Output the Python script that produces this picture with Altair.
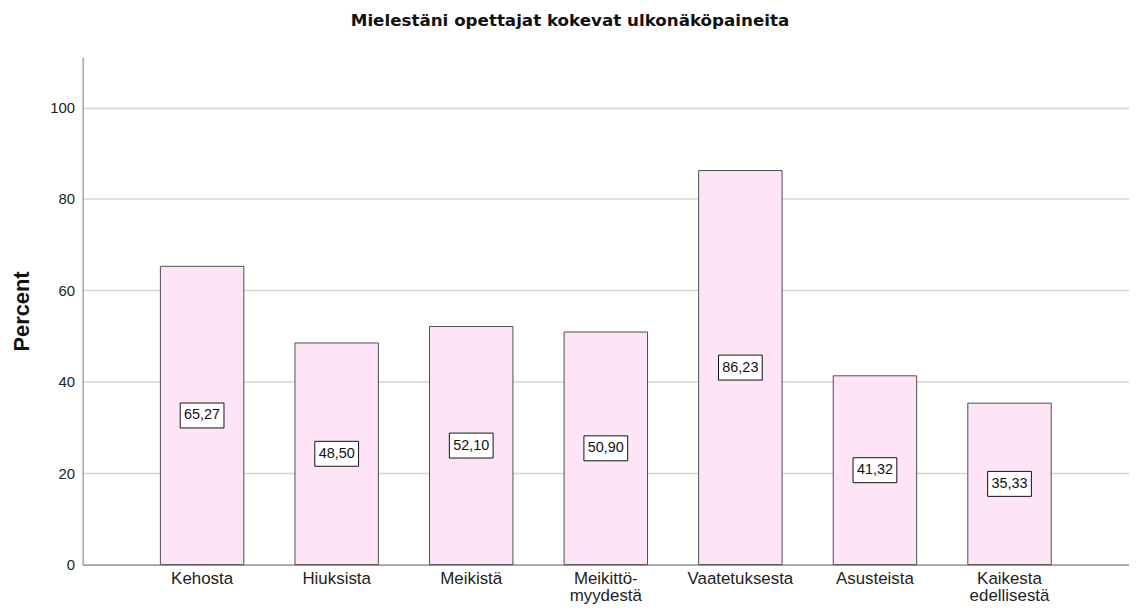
import altair as alt
import pandas as pd

categories = ["Kehosta", "Hiuksista", "Meikistä", "Meikittö-\nmyydestä",
              "Vaatetuksesta", "Asusteista", "Kaikesta\nedellisestä"]
percent = [65.27, 48.50, 52.10, 50.90, 86.23, 41.32, 35.33]

df = pd.DataFrame({"cat": categories, "pct": percent})

FONT = "Liberation Sans"

x_enc = alt.X("cat:N", sort=categories, title=None,
              scale=alt.Scale(paddingInner=0.38, paddingOuter=0.578),
              axis=alt.Axis(labelAngle=0, ticks=False, labelFont=FONT, labelFontSize=17,
                            labelColor="#222222", labelPadding=6, labelBaseline="top",
                            domainColor="#777777",
                            labelExpr="split(datum.label, '\\n')", labelLineHeight=17))

base = alt.Chart(df).encode(x=x_enc)

bars = base.mark_bar(fill="#fde4f6", stroke="#4f4f4f", strokeWidth=1).encode(
    y=alt.Y("pct:Q", title="Percent",
            scale=alt.Scale(domain=[0, 111], nice=False),
            axis=alt.Axis(values=[0, 20, 40, 60, 80, 100], ticks=False, labelFont=FONT,
                          labelFontSize=15, labelColor="#222222", labelPadding=8,
                          gridColor="#d4d4d4", gridWidth=1.5, domainColor="#777777",
                          titleFont=FONT, titleFontSize=22, titleFontWeight="bold",
                          titleColor="#111111", titlePadding=16))
)

mid = base.transform_calculate(
    half="datum.pct / 2",
    lbl="replace(format(datum.pct, '.2f'), '.', ',')"
)

boxes = mid.mark_point(shape="M-1,-0.57H1V0.57H-1Z", size=1936, filled=True,
                       fill="white", stroke="#111111", strokeWidth=1, opacity=1).encode(
    y="half:Q"
)

texts = mid.mark_text(font=FONT, fontSize=14.5, color="#111111").encode(
    y="half:Q", text="lbl:N"
)

chart = (bars + boxes + texts).properties(
    width=1052, height=510,
    title=alt.TitleParams("Mielestäni opettajat kokevat ulkonäköpaineita",
                          font="DejaVu Sans", fontSize=16.8, fontWeight="bold",
                          color="#111111", anchor="middle", dx=-36, offset=28),
    autosize=alt.AutoSizeParams(type="none"),
    padding={"left": 75, "top": 48, "right": 0, "bottom": 40},
).configure_view(stroke=None).configure_axis(grid=True).configure_axisX(grid=False)

chart.save("out.html", embed_options={"renderer": "svg", "actions": False})
